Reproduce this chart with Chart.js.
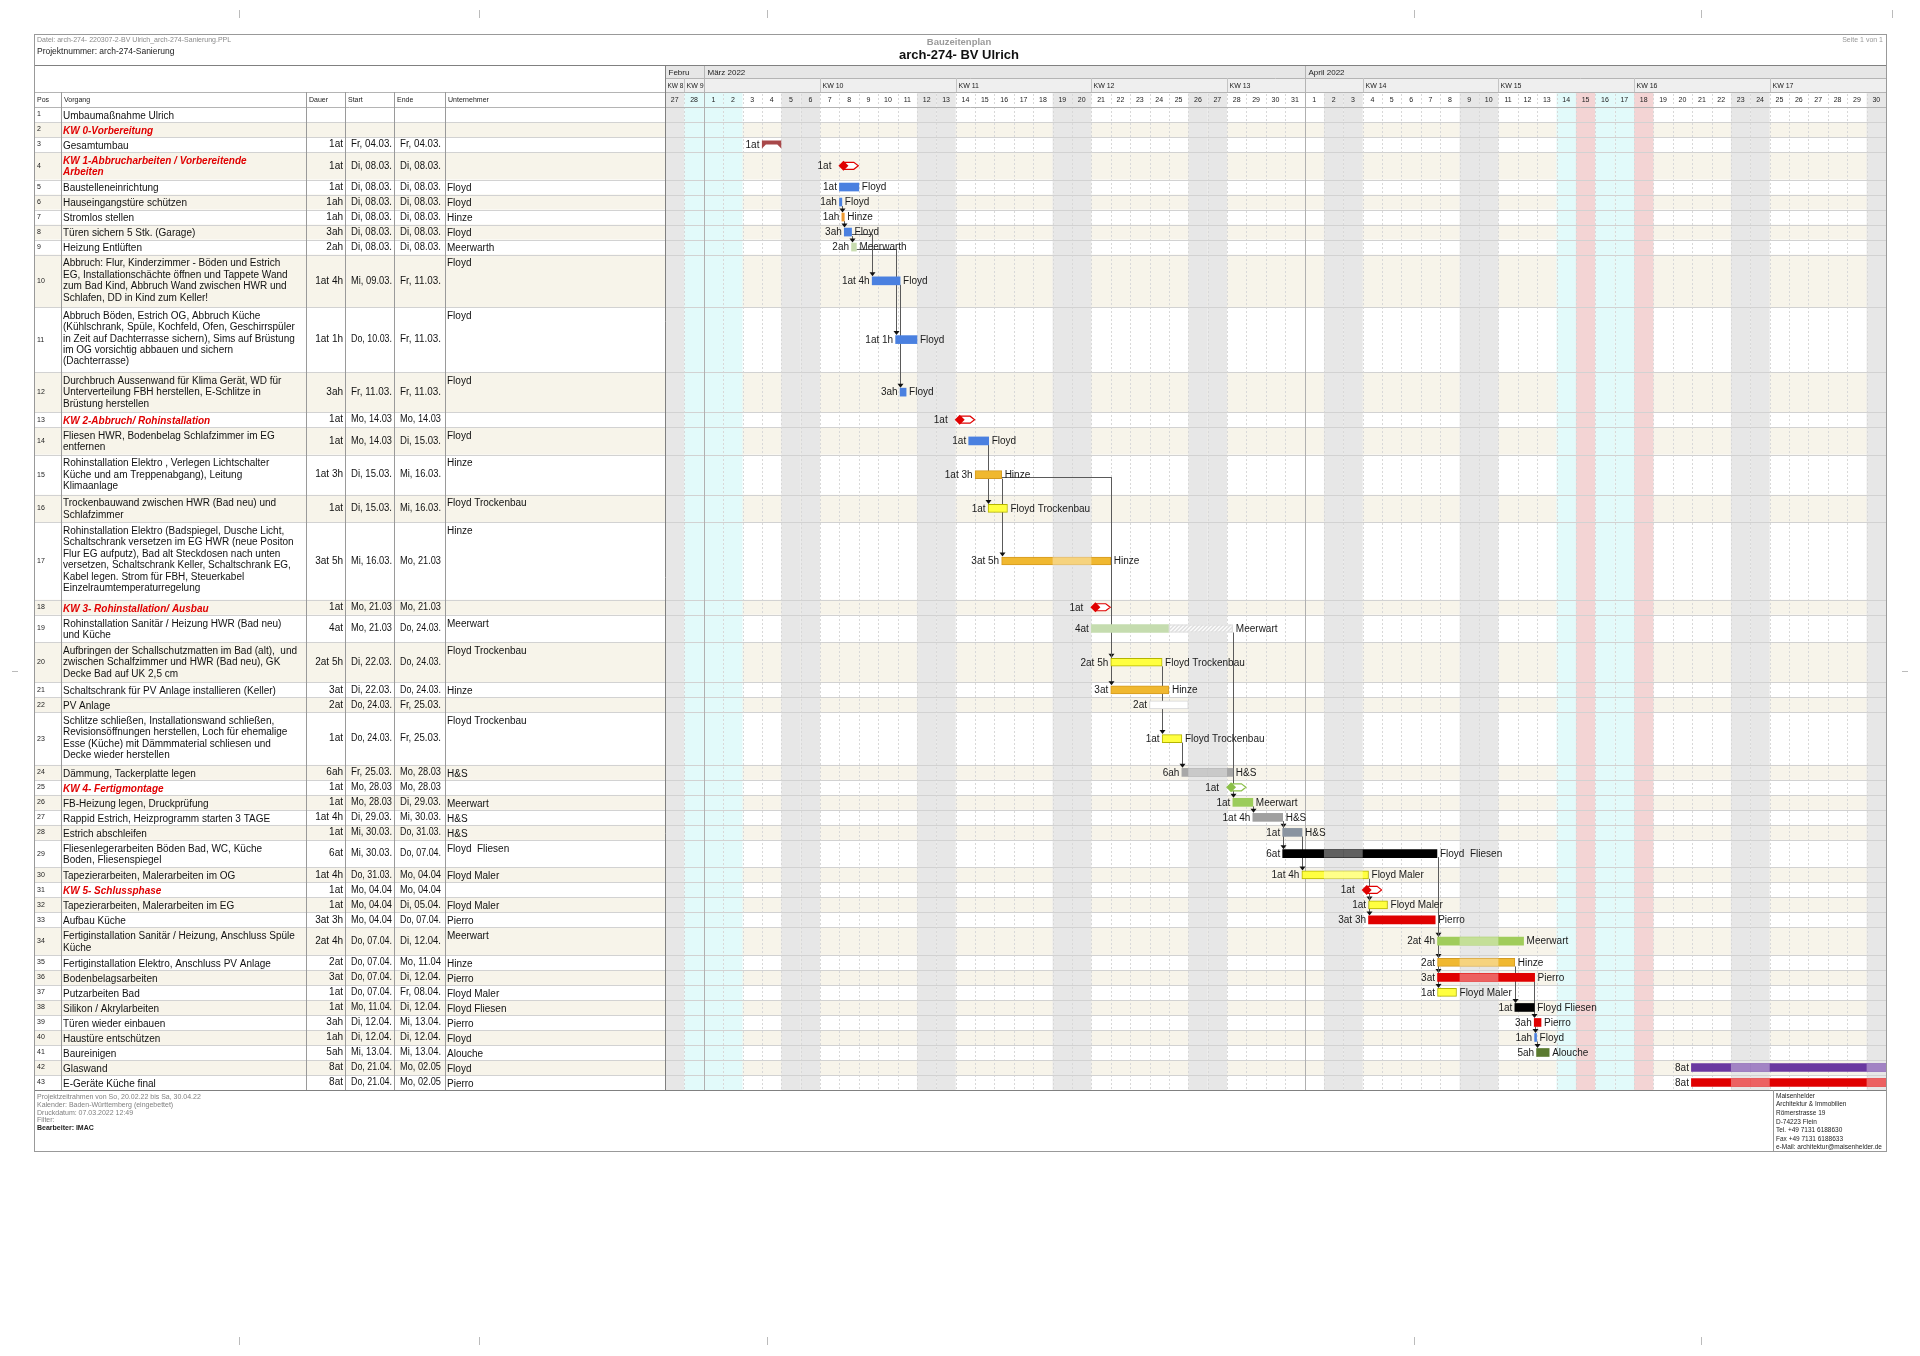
<!DOCTYPE html>
<html lang="de">
<head>
<meta charset="utf-8">
<title>Bauzeitenplan arch-274- BV Ulrich</title>
<script src="https://cdn.jsdelivr.net/npm/chart.js@4.4.1/dist/chart.umd.min.js"></script>
<style>
  html, body { margin: 0; padding: 0; background: #fff; }
  canvas { display: block; }
</style>
</head>
<body>
<canvas id="gantt" width="1920" height="1356"></canvas>
<script>
// --- Daten (Pos 1..43) ---
const vorgaenge = [
  'Umbaumaßnahme Ulrich',
  'KW 0-Vorbereitung',
  'Gesamtumbau',
  'KW 1-Abbrucharbeiten / Vorbereitende\nArbeiten',
  'Baustelleneinrichtung',
  'Hauseingangstüre schützen',
  'Stromlos stellen',
  'Türen sichern 5 Stk. (Garage)',
  'Heizung Entlüften',
  'Abbruch: Flur, Kinderzimmer - Böden und Estrich\nEG, Installationschächte öffnen und Tappete Wand\nzum Bad Kind, Abbruch Wand zwischen HWR und\nSchlafen, DD in Kind zum Keller!',
  'Abbruch Böden, Estrich OG, Abbruch Küche\n(Kühlschrank, Spüle, Kochfeld, Ofen, Geschirrspüler\nin Zeit auf Dachterrasse sichern), Sims auf Brüstung\nim OG vorsichtig abbauen und sichern\n(Dachterrasse)',
  'Durchbruch Aussenwand für Klima Gerät, WD für\nUnterverteilung FBH herstellen, E-Schlitze in\nBrüstung herstellen',
  'KW 2-Abbruch/ Rohinstallation',
  'Fliesen HWR, Bodenbelag Schlafzimmer im EG\nentfernen',
  'Rohinstallation Elektro , Verlegen Lichtschalter\nKüche und am Treppenabgang), Leitung\nKlimaanlage',
  'Trockenbauwand zwischen HWR (Bad neu) und\nSchlafzimmer',
  'Rohinstallation Elektro (Badspiegel, Dusche Licht,\nSchaltschrank versetzen im EG HWR (neue Positon\nFlur EG aufputz), Bad alt Steckdosen nach unten\nversetzen, Schaltschrank Keller, Schaltschrank EG,\nKabel legen. Strom für FBH, Steuerkabel\nEinzelraumtemperaturregelung',
  'KW 3- Rohinstallation/ Ausbau',
  'Rohinstallation Sanitär / Heizung HWR (Bad neu)\nund Küche',
  'Aufbringen der Schallschutzmatten im Bad (alt),  und\nzwischen Schalfzimmer und HWR (Bad neu), GK\nDecke Bad auf UK 2,5 cm',
  'Schaltschrank für PV Anlage installieren (Keller)',
  'PV Anlage',
  'Schlitze schließen, Installationswand schließen,\nRevisionsöffnungen herstellen, Loch für ehemalige\nEsse (Küche) mit Dämmmaterial schliesen und\nDecke wieder herstellen',
  'Dämmung, Tackerplatte legen',
  'KW 4- Fertigmontage',
  'FB-Heizung legen, Druckprüfung',
  'Rappid Estrich, Heizprogramm starten 3 TAGE',
  'Estrich abschleifen',
  'Fliesenlegerarbeiten Böden Bad, WC, Küche\nBoden, Fliesenspiegel',
  'Tapezierarbeiten, Malerarbeiten im OG',
  'KW 5- Schlussphase',
  'Tapezierarbeiten, Malerarbeiten im EG',
  'Aufbau Küche',
  'Fertiginstallation Sanitär / Heizung, Anschluss Spüle\nKüche',
  'Fertiginstallation Elektro, Anschluss PV Anlage',
  'Bodenbelagsarbeiten',
  'Putzarbeiten Bad',
  'Silikon / Akrylarbeiten',
  'Türen wieder einbauen',
  'Haustüre entschützen',
  'Baureinigen',
  'Glaswand',
  'E-Geräte Küche final'
];

const dauer = [
  '', '', '1at', '1at', '1at', '1ah', '1ah', '3ah', '2ah', '1at 4h',
  '1at 1h', '3ah', '1at', '1at', '1at 3h', '1at', '3at 5h', '1at', '4at', '2at 5h',
  '3at', '2at', '1at', '6ah', '1at', '1at', '1at 4h', '1at', '6at', '1at 4h',
  '1at', '1at', '3at 3h', '2at 4h', '2at', '3at', '1at', '1at', '3ah', '1ah',
  '5ah', '8at', '8at'
];

const startText = [
  '', '', 'Fr, 04.03.', 'Di, 08.03.', 'Di, 08.03.', 'Di, 08.03.', 'Di, 08.03.', 'Di, 08.03.', 'Di, 08.03.', 'Mi, 09.03.',
  'Do, 10.03.', 'Fr, 11.03.', 'Mo, 14.03', 'Mo, 14.03', 'Di, 15.03.', 'Di, 15.03.', 'Mi, 16.03.', 'Mo, 21.03', 'Mo, 21.03', 'Di, 22.03.',
  'Di, 22.03.', 'Do, 24.03.', 'Do, 24.03.', 'Fr, 25.03.', 'Mo, 28.03', 'Mo, 28.03', 'Di, 29.03.', 'Mi, 30.03.', 'Mi, 30.03.', 'Do, 31.03.',
  'Mo, 04.04', 'Mo, 04.04', 'Mo, 04.04', 'Do, 07.04.', 'Do, 07.04.', 'Do, 07.04.', 'Do, 07.04.', 'Mo, 11.04.', 'Di, 12.04.', 'Di, 12.04.',
  'Mi, 13.04.', 'Do, 21.04.', 'Do, 21.04.'
];

const endeText = [
  '', '', 'Fr, 04.03.', 'Di, 08.03.', 'Di, 08.03.', 'Di, 08.03.', 'Di, 08.03.', 'Di, 08.03.', 'Di, 08.03.', 'Fr, 11.03.',
  'Fr, 11.03.', 'Fr, 11.03.', 'Mo, 14.03', 'Di, 15.03.', 'Mi, 16.03.', 'Mi, 16.03.', 'Mo, 21.03', 'Mo, 21.03', 'Do, 24.03.', 'Do, 24.03.',
  'Do, 24.03.', 'Fr, 25.03.', 'Fr, 25.03.', 'Mo, 28.03', 'Mo, 28.03', 'Di, 29.03.', 'Mi, 30.03.', 'Do, 31.03.', 'Do, 07.04.', 'Mo, 04.04',
  'Mo, 04.04', 'Di, 05.04.', 'Do, 07.04.', 'Di, 12.04.', 'Mo, 11.04', 'Di, 12.04.', 'Fr, 08.04.', 'Di, 12.04.', 'Mi, 13.04.', 'Di, 12.04.',
  'Mi, 13.04.', 'Mo, 02.05', 'Mo, 02.05'
];

const unternehmer = [
  '', '', '', '', 'Floyd', 'Floyd', 'Hinze', 'Floyd', 'Meerwarth', 'Floyd',
  'Floyd', 'Floyd', '', 'Floyd', 'Hinze', 'Floyd Trockenbau', 'Hinze', '', 'Meerwart', 'Floyd Trockenbau',
  'Hinze', '', 'Floyd Trockenbau', 'H&S', '', 'Meerwart', 'H&S', 'H&S', 'Floyd  Fliesen', 'Floyd Maler',
  '', 'Floyd Maler', 'Pierro', 'Meerwart', 'Hinze', 'Pierro', 'Floyd Maler', 'Floyd Fliesen', 'Pierro', 'Floyd',
  'Alouche', 'Floyd', 'Pierro'
];

// Balken in Tagen ab So, 27.02.2022 (0 = Beginn 27.02.)
const barStart = [
  null, null, 5, 9, 9, 9, 9.125, 9.25, 9.625, 10.69,
  11.9, 12.13, 15, 15.67, 16, 16.67, 17.37, 22, 22, 23,
  23, 25, 25.65, 26.67, 29, 29.3, 30.33, 31.87, 31.87, 32.86,
  36, 36.3, 36.3, 39.86, 39.86, 39.86, 39.86, 43.85, 44.85, 44.87,
  44.97, 52.96, 52.96
];
const barEnd = [
  null, null, 6, 10, 10, 9.125, 9.25, 9.625, 9.875, 12.13,
  13, 12.44, 16, 16.7, 17.37, 17.67, 23, 23, 26, 25.65,
  26, 27, 26.67, 29.3, 30, 30.33, 31.87, 32.87, 39.83, 36.3,
  37, 37.28, 39.74, 44.3, 43.85, 44.87, 40.84, 44.85, 45.2, 44.97,
  45.62, 63, 63
];
const pufferEnde = { 19: 29.3 };
const summenZeilen = [3];

// Abhängigkeiten (Pos -> Pos)
const links = [
  [6, 7], [7, 8], [8, 9], [8, 10], [9, 11], [10, 12], [14, 16], [15, 17], [15, 20], [15, 21],
  [19, 26], [20, 23], [23, 24], [26, 27], [27, 28], [27, 29], [28, 30], [30, 32], [30, 33],
  [29, 34], [29, 35], [29, 36], [29, 37], [35, 38], [36, 39], [39, 40], [40, 41]
];

// Kalender
const monatsNamen = ['Febru', 'März 2022', 'April 2022'];
const ferienTage = [1, 2, 3, 46, 48, 49];   // 28.02.-02.03., 14.04., 16./17.04.
const feierTage = [47, 50];                 // Karfreitag, Ostermontag
const TAGE = 63;

// --- Stil ---
const farben = [
  null, null, '#a8484a', '#e00000', '#4a80e0', '#4a80e0', '#ee9a30', '#4a80e0', '#c8dcb0', '#4a80e0',
  '#4a80e0', '#4a80e0', '#e00000', '#4a80e0', '#f0b830', '#ffff40', '#f0b830', '#e00000', '#c5dcaf', '#ffff40',
  '#f0b830', '#ffffff', '#ffff40', '#a8a8a8', '#8cc04a', '#9ccc5a', '#a0a0a0', '#8a94a0', '#000000', '#ffff40',
  '#e00000', '#ffff40', '#e00000', '#a0cc5a', '#f0b830', '#e00000', '#ffff40', '#000000', '#e00000', '#4a80e0',
  '#5a7a30', '#6a38a0', '#e00000'
];
const SANS = "'Liberation Sans', Arial, sans-serif";
const NARROW = "'Liberation Sans Narrow', 'Liberation Sans', Arial, sans-serif";
const BEIGE = '#f7f4ea';
const PAGE = { l: 34, t: 34, r: 1886, b: 1151 };
const COLS = [34, 61, 306, 345, 394, 445, 665];
const HEAD_Y = [65, 78, 92, 107];
const ZEILE_EXTRA = 12.5 / 15;

// Zeilenhöhen aus der Anzahl Textzeilen
const rowTop = [], rowH = [];
let summe = 0;
vorgaenge.forEach(t => {
  const h = 1 + (t.split('\n').length - 1) * ZEILE_EXTRA;
  rowTop.push(summe); rowH.push(h); summe += h;
});
const TOTAL = summe;

const punkte = [], bg = [], border = [], bw = [];
barStart.forEach((s, i) => {
  if (s === null) return;
  punkte.push({ x: [s, barEnd[i]], y: rowTop[i] + rowH[i] / 2, row: i });
  const spezial = summenZeilen.includes(i + 1) || vorgaenge[i].startsWith('KW');
  const f = farben[i];
  bg.push(spezial ? 'rgba(0,0,0,0)' : f);
  if (f === '#ffff40') { border.push('#b4b400'); bw.push(1); }
  else if (f === '#ffffff') { border.push('#d4d4d4'); bw.push(1); }
  else if (f === '#f0b830') { border.push('#d49a20'); bw.push(1); }
  else { border.push(f); bw.push(0); }
});

function datum(d) { return new Date(2022, 1, 27 + d); }
function wochentag(d) { return datum(d).getDay(); }
function isoKW(date) {
  const d = new Date(Date.UTC(date.getFullYear(), date.getMonth(), date.getDate()));
  const wd = d.getUTCDay() || 7;
  d.setUTCDate(d.getUTCDate() + 4 - wd);
  const y0 = new Date(Date.UTC(d.getUTCFullYear(), 0, 1));
  return Math.ceil(((d - y0) / 86400000 + 1) / 7);
}
function tagFarbe(d) {
  if (feierTage.includes(d)) return '#f3d4d4';
  if (ferienTage.includes(d)) return '#e2fafa';
  const w = wochentag(d);
  if (w === 0 || w === 6) return '#e7e7e7';
  return null;
}
function istFrei(d) {
  const w = wochentag(d);
  return w === 0 || w === 6 || feierTage.includes(d);
}

function line(c, x0, y0, x1, y1) {
  c.beginPath(); c.moveTo(x0, y0); c.lineTo(x1, y1); c.stroke();
}

const ganttPlugin = {
  id: 'ganttPlugin',
  beforeDraw(chart) {
    const c = chart.ctx, a = chart.chartArea;
    const X = v => chart.scales.x.getPixelForValue(v);
    const Y = v => chart.scales.y.getPixelForValue(v);
    c.save();
    c.fillStyle = '#fff';
    c.fillRect(0, 0, chart.width, chart.height);

    // Schnittmarken
    c.strokeStyle = '#bbb'; c.lineWidth = 1;
    [239, 479, 767, 1414, 1701].forEach(x => { line(c, x + 0.5, 10, x + 0.5, 18); line(c, x + 0.5, 1337, x + 0.5, 1345); });
    line(c, 1892.5, 10, 1892.5, 18);
    line(c, 12, 671.5, 18, 671.5); line(c, 1902, 671.5, 1908, 671.5);

    // Zeilenhintergrund
    rowTop.forEach((t, i) => {
      if (i % 2 === 1) {
        c.fillStyle = BEIGE;
        c.fillRect(PAGE.l, Y(t), PAGE.r - PAGE.l, Y(t + rowH[i]) - Y(t));
      }
    });

    // Wochenenden / Ferien / Feiertage
    for (let d = 0; d < TAGE; d++) {
      const f = tagFarbe(d);
      if (!f) continue;
      c.fillStyle = f;
      c.fillRect(X(d), a.top, X(d + 1) - X(d), a.bottom - a.top);
      c.fillRect(X(d), HEAD_Y[2], X(d + 1) - X(d), HEAD_Y[3] - HEAD_Y[2]);
    }

    // Tageslinien
    c.strokeStyle = '#d8d8d8'; c.setLineDash([2, 2]);
    for (let d = 1; d < TAGE; d++) {
      const x = Math.round(X(d)) + 0.5;
      line(c, x, a.top, x, a.bottom);
      line(c, x, HEAD_Y[2] + 2, x, HEAD_Y[3] - 1);
    }
    c.setLineDash([]);

    // Zeilentrenner
    c.strokeStyle = '#d2d2d2';
    rowTop.forEach((t, i) => {
      const y = Math.round(Y(t + rowH[i])) + 0.5;
      line(c, PAGE.l, y, PAGE.r, y);
    });

    // Monats- und Kopfzeilen
    c.fillStyle = '#e6e6e6';
    c.fillRect(a.left, HEAD_Y[0], a.right - a.left, HEAD_Y[1] - HEAD_Y[0]);
    c.fillStyle = '#efefef';
    c.fillRect(a.left, HEAD_Y[1], a.right - a.left, HEAD_Y[2] - HEAD_Y[1]);

    c.strokeStyle = '#b4b4b4';
    HEAD_Y.forEach(y => line(c, a.left, y + 0.5, a.right, y + 0.5));
    line(c, PAGE.l, HEAD_Y[2] + 0.5, a.left, HEAD_Y[2] + 0.5);
    line(c, PAGE.l, HEAD_Y[3] + 0.5, a.left, HEAD_Y[3] + 0.5);

    c.textBaseline = 'middle'; c.textAlign = 'left';
    let m = 0;
    for (let d = 0; d < TAGE; d++) {
      const dt = datum(d);
      if (d === 0 || dt.getDate() === 1) {
        const x = Math.round(X(d)) + 0.5;
        c.strokeStyle = '#b4b4b4';
        line(c, x, HEAD_Y[0], x, HEAD_Y[2]);
        if (d > 0) { c.strokeStyle = '#b0b0b0'; line(c, x, HEAD_Y[2], x, a.bottom); }
        c.fillStyle = '#222'; c.font = '8px ' + NARROW;
        c.fillText(monatsNamen[m++], x + 3, (HEAD_Y[0] + HEAD_Y[1]) / 2 + 1);
      }
      if (d === 0 || dt.getDay() === 1) {
        const x = Math.round(X(d)) + 0.5;
        c.strokeStyle = '#c4c4c4';
        line(c, x, HEAD_Y[1], x, HEAD_Y[2]);
        c.fillStyle = '#222'; c.font = '7px ' + NARROW;
        c.fillText('KW ' + isoKW(dt), x + 2, (HEAD_Y[1] + HEAD_Y[2]) / 2 + 1, d === 0 ? 16 : 60);
      }
      c.textAlign = 'center';
      c.font = '7px ' + NARROW; c.fillStyle = '#222';
      c.fillText(String(dt.getDate()), (X(d) + X(d + 1)) / 2, (HEAD_Y[2] + HEAD_Y[3]) / 2 + 1);
      c.textAlign = 'left';
    }

    // Tabellenspalten
    c.strokeStyle = '#9a9a9a';
    COLS.slice(1, 6).forEach(x => line(c, x + 0.5, HEAD_Y[2], x + 0.5, a.bottom));

    // Spaltenköpfe
    c.font = '7px ' + NARROW; c.fillStyle = '#222';
    const kopf = ['Pos', 'Vorgang', 'Dauer', 'Start', 'Ende', 'Unternehmer'];
    kopf.forEach((k, i) => c.fillText(k, COLS[i] + 3, (HEAD_Y[2] + HEAD_Y[3]) / 2 + 1));

    // Tabelleninhalt
    rowTop.forEach((t, i) => {
      const top = Y(t), mid = Y(t + rowH[i] / 2);
      c.textAlign = 'left';
      c.font = '7px ' + SANS; c.fillStyle = '#222';
      c.fillText(String(i + 1), 37, mid);
      const kw = vorgaenge[i].startsWith('KW');
      c.font = (kw ? 'italic bold ' : '') + '10px ' + SANS;
      c.fillStyle = kw ? '#e00000' : '#111';
      vorgaenge[i].split('\n').forEach((z, k) => c.fillText(z, 63, top + 9 + k * 11.4));
      c.font = '10px ' + SANS; c.fillStyle = '#111';
      c.fillText(startText[i], 351, mid, 41);
      c.fillText(endeText[i], 400, mid, 41);
      c.fillText(unternehmer[i], 447, top + 9);
      c.textAlign = 'right';
      c.fillText(dauer[i], 343, mid);
    });

    // Rahmen
    c.strokeStyle = '#808080';
    line(c, a.left + 0.5, HEAD_Y[0], a.left + 0.5, a.bottom);
    line(c, PAGE.l, HEAD_Y[0] + 0.5, PAGE.r, HEAD_Y[0] + 0.5);
    line(c, PAGE.l, a.bottom + 0.5, PAGE.r, a.bottom + 0.5);
    c.strokeStyle = '#999';
    c.strokeRect(PAGE.l + 0.5, PAGE.t + 0.5, PAGE.r - PAGE.l, PAGE.b - PAGE.t);

    // Kopf
    c.textAlign = 'left';
    c.font = '7px ' + SANS; c.fillStyle = '#8a8a8a';
    c.fillText('Datei: arch-274- 220307-2-BV Ulrich_arch-274-Sanierung.PPL', 37, 40);
    c.font = '8.5px ' + SANS; c.fillStyle = '#222';
    c.fillText('Projektnummer: arch-274-Sanierung', 37, 52);
    c.textAlign = 'right';
    c.font = '7px ' + SANS; c.fillStyle = '#999';
    c.fillText('Seite 1 von 1', PAGE.r - 3, 40);
    c.textAlign = 'center';
    c.font = 'bold 9.5px ' + SANS; c.fillStyle = '#9a9a9a';
    c.fillText('Bauzeitenplan', 959, 42);
    c.font = 'bold 13px ' + SANS; c.fillStyle = '#111';
    c.fillText('arch-274- BV Ulrich', 959, 55);

    // Fuß
    c.textAlign = 'left';
    const fuss = ['Projektzeitrahmen von So, 20.02.22 bis Sa, 30.04.22', 'Kalender: Baden-Württemberg (eingebettet)',
      'Druckdatum: 07.03.2022 12:49', 'Filter:'];
    c.font = '7px ' + SANS; c.fillStyle = '#808080';
    fuss.forEach((s, k) => c.fillText(s, 37, 1097 + k * 7.8));
    c.font = 'bold 7px ' + SANS; c.fillStyle = '#222';
    c.fillText('Bearbeiter: IMAC', 37, 1097 + 4 * 7.8);
    c.strokeStyle = '#999';
    line(c, 1773.5, a.bottom, 1773.5, PAGE.b);
    const adresse = ['Maisenhelder', 'Architektur & Immobilien', 'Römerstrasse 19', 'D-74223 Flein',
      'Tel. +49 7131 6188630', 'Fax +49 7131 6188633', 'e-Mail: architektur@maisenhelder.de'];
    c.font = '6.5px ' + SANS; c.fillStyle = '#222';
    adresse.forEach((s, k) => c.fillText(s, 1776, 1096 + k * 8.6));
    c.restore();
  },

  beforeDatasetsDraw(chart) {
    const c = chart.ctx, a = chart.chartArea;
    const X = v => chart.scales.x.getPixelForValue(v);
    const Y = v => chart.scales.y.getPixelForValue(v);
    c.save();
    c.beginPath(); c.rect(a.left, a.top, a.right - a.left, a.bottom - a.top); c.clip();
    c.strokeStyle = '#5a5a5a'; c.fillStyle = '#111'; c.lineWidth = 1;
    links.forEach(([p, q]) => {
      const i = p - 1, j = q - 1;
      const endA = pufferEnde[p] ?? barEnd[i];
      const yA = Y(rowTop[i] + rowH[i] / 2), yB = Y(rowTop[j] + rowH[j] / 2);
      const xB = Math.round(X(barStart[j])) + 0.5;
      c.beginPath();
      if (barStart[j] <= endA + 0.05) {
        c.moveTo(xB, yA + 4);
      } else {
        const yy = Math.round(yA + 2) + 0.5;
        c.moveTo(X(endA), yy); c.lineTo(xB, yy);
      }
      c.lineTo(xB, yB - 8);
      c.stroke();
      c.beginPath();
      c.moveTo(xB - 3, yB - 8.5); c.lineTo(xB + 3, yB - 8.5); c.lineTo(xB, yB - 4.5);
      c.closePath(); c.fill();
    });
    c.restore();
  },

  afterDatasetsDraw(chart) {
    const c = chart.ctx, a = chart.chartArea;
    const X = v => chart.scales.x.getPixelForValue(v);
    const Y = v => chart.scales.y.getPixelForValue(v);
    c.save();
    c.beginPath(); c.rect(a.left, a.top, a.right - a.left, a.bottom - a.top); c.clip();
    punkte.forEach(p => {
      const i = p.row, pos = i + 1;
      const x0 = X(p.x[0]), x1 = X(p.x[1]), y = Y(p.y);
      const col = farben[i];
      const summe = summenZeilen.includes(pos);
      const ms = vorgaenge[i].startsWith('KW');
      if (summe) {
        c.fillStyle = col; c.beginPath();
        c.moveTo(x0, y - 4); c.lineTo(x1, y - 4); c.lineTo(x1, y + 4); c.lineTo(x1 - 4, y);
        c.lineTo(x0 + 4, y); c.lineTo(x0, y + 4); c.closePath(); c.fill();
      } else if (ms) {
        c.beginPath();
        c.moveTo(x0 + 5, y - 3.5); c.lineTo(x1 - 5, y - 3.5); c.lineTo(x1 - 0.5, y);
        c.lineTo(x1 - 5, y + 3.5); c.lineTo(x0 + 5, y + 3.5); c.closePath();
        c.fillStyle = '#fff'; c.fill(); c.strokeStyle = col; c.lineWidth = 1.2; c.stroke();
        c.beginPath();
        c.moveTo(x0 + 4, y - 5); c.lineTo(x0 + 9, y); c.lineTo(x0 + 4, y + 5); c.lineTo(x0 - 1, y);
        c.closePath(); c.fillStyle = col; c.fill();
      } else {
        // hellere Abschnitte an freien Tagen
        for (let d = Math.floor(p.x[0]); d < Math.ceil(p.x[1]); d++) {
          if (!istFrei(d)) continue;
          const s = Math.max(d, p.x[0]), e = Math.min(d + 1, p.x[1]);
          c.fillStyle = 'rgba(255,255,255,0.38)';
          c.fillRect(X(s), y - 4, X(e) - X(s), 8);
        }
      }
      // Puffer (schraffiert)
      const pe = pufferEnde[pos];
      if (pe) {
        const xp = X(pe);
        c.fillStyle = '#fbfbfb'; c.fillRect(x1, y - 4, xp - x1, 8);
        c.save(); c.beginPath(); c.rect(x1, y - 4, xp - x1, 8); c.clip();
        c.strokeStyle = '#dcdcdc';
        for (let k = x1 - 10; k < xp + 10; k += 4) line(c, k, y + 4, k + 8, y - 4);
        c.restore();
        c.strokeStyle = '#e0e0e0'; c.strokeRect(x1 + 0.5, y - 3.5, xp - x1 - 1, 7);
      }
      // Beschriftung
      c.font = '10px ' + SANS; c.fillStyle = '#1a1a1a'; c.textBaseline = 'middle';
      c.textAlign = 'right';
      c.fillText(dauer[i], ms ? x0 - 8 : x0 - 2.5, y + 0.5);
      if (unternehmer[i] && p.x[1] < TAGE) {
        c.textAlign = 'left';
        c.fillText(unternehmer[i], (pe ? X(pe) : x1) + 3, y + 0.5);
      }
    });
    c.restore();
  }
};

const ctx = document.getElementById('gantt').getContext('2d');
new Chart(ctx, {
  type: 'bar',
  data: {
    datasets: [{
      data: punkte,
      backgroundColor: bg,
      borderColor: border,
      borderWidth: bw,
      borderSkipped: false,
      barThickness: 8
    }]
  },
  options: {
    indexAxis: 'y',
    responsive: false,
    animation: false,
    events: [],
    layout: { padding: { left: 665, right: 1920 - 1886, top: 107, bottom: 1356 - 1090 } },
    plugins: { legend: { display: false }, tooltip: { enabled: false } },
    scales: {
      x: { type: 'linear', min: 0, max: TAGE, offset: false, display: false },
      y: { type: 'linear', min: 0, max: TOTAL, reverse: true, offset: false, display: false, grid: { offset: false } }
    }
  },
  plugins: [ganttPlugin]
});
</script>
</body>
</html>
